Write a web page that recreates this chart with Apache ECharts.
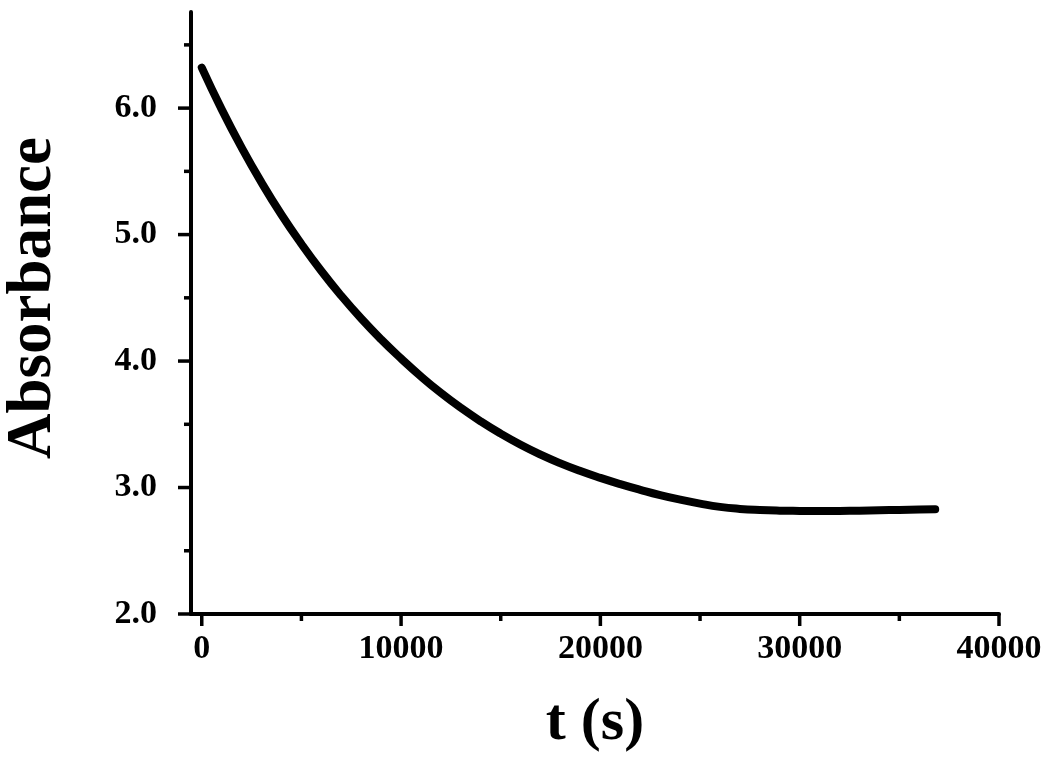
<!DOCTYPE html>
<html>
<head>
<meta charset="utf-8">
<script src="https://cdn.jsdelivr.net/npm/echarts@6/dist/echarts.min.js"></script>
<style>
html,body{margin:0;padding:0;background:#fff;}
#chart{width:1050px;height:762px;}
</style>
</head>
<body>
<div id="chart"></div>
<script>
const timeValues = [0, 1000, 2000, 3000, 4000, 5000, 6000, 7000, 8000, 9000, 10000, 11000, 12000, 13000, 14000, 15000, 16000, 17000, 18000, 19000, 20000, 21000, 22000, 23000, 24000, 25000, 26000, 27000, 28000, 29000, 30000, 31000, 32000, 33000, 34000, 35000, 36000, 36800];
const absorbanceValues = [6.32, 5.99, 5.688, 5.411, 5.157, 4.926, 4.712, 4.516, 4.336, 4.171, 4.02, 3.878, 3.748, 3.63, 3.523, 3.426, 3.338, 3.26, 3.191, 3.13, 3.076, 3.027, 2.982, 2.94, 2.904, 2.873, 2.847, 2.831, 2.822, 2.817, 2.815, 2.814, 2.815, 2.817, 2.82, 2.823, 2.826, 2.828];
const xMajorTicks = [0, 10000, 20000, 30000, 40000];
const xMinorTicks = [5000, 15000, 25000, 35000];
const yMajorTicks = [2, 3, 4, 5, 6];
const yMinorTicks = [2.5, 3.5, 4.5, 5.5, 6.5];
const xAxisTitle = 't (s)';
const yAxisTitle = 'Absorbance';

const FONT = '"Liberation Serif", "Times New Roman", serif';
const chart = echarts.init(document.getElementById('chart'), null, {renderer: 'canvas'});
const seriesData = timeValues.map((t, i) => [t, absorbanceValues[i]]);

const xMin = -540, xMax = 40000, yMin = 2, yMax = 6.76;
const MAJOR_LEN = 13, MINOR_LEN = 7;

const xTickData = xMajorTicks.map(v => [v, yMin, MAJOR_LEN - 1]).concat(xMinorTicks.map(v => [v, yMin, MINOR_LEN]));
const yTickData = yMajorTicks.map(v => [xMin, v, MAJOR_LEN]).concat(yMinorTicks.map(v => [xMin, v, MINOR_LEN]));

chart.setOption({
  backgroundColor: '#ffffff',
  animation: false,
  grid: {left: 191, right: 51, top: 12, bottom: 148, containLabel: false, outerBoundsMode: 'none'},
  xAxis: {
    type: 'value', min: xMin, max: xMax, position: 'bottom',
    name: xAxisTitle, nameLocation: 'middle', nameGap: 79,
    nameTextStyle: {fontFamily: FONT, fontWeight: 'bold', fontSize: 60, color: '#000'},
    axisLine: {show: true, onZero: false, lineStyle: {color: '#000', width: 4}},
    axisTick: {show: false},
    axisLabel: {show: true, customValues: xMajorTicks, margin: 18, fontFamily: FONT, fontWeight: 'bold', fontSize: 34, color: '#000', formatter: v => String(v)},
    splitLine: {show: false}
  },
  yAxis: {
    type: 'value', min: yMin, max: yMax, position: 'left',
    name: yAxisTitle, nameLocation: 'middle', nameGap: 126, nameRotate: 90,
    nameTextStyle: {fontFamily: FONT, fontWeight: 'bold', fontSize: 63, color: '#000', padding: [0, 0, 0, 30]},
    axisLine: {show: true, onZero: false, lineStyle: {color: '#000', width: 4}},
    axisTick: {show: false},
    axisLabel: {show: true, customValues: yMajorTicks, margin: 34, fontFamily: FONT, fontWeight: 'bold', fontSize: 34, color: '#000', formatter: v => v.toFixed(1)},
    splitLine: {show: false}
  },
  series: [
    {
      type: 'custom', silent: true, clip: false, z: 5,
      encode: {x: 0, y: 1},
      data: xTickData,
      renderItem: (params, api) => {
        const p = api.coord([api.value(0), api.value(1)]);
        const len = api.value(2);
        return {type: 'line', shape: {x1: p[0], y1: p[1], x2: p[0], y2: p[1] + len},
                style: {stroke: '#000', lineWidth: 3.5}};
      }
    },
    {
      type: 'custom', silent: true, clip: false, z: 5,
      encode: {x: 0, y: 1},
      data: yTickData,
      renderItem: (params, api) => {
        const p = api.coord([api.value(0), api.value(1)]);
        const len = api.value(2);
        return {type: 'line', shape: {x1: p[0] - len, y1: p[1], x2: p[0], y2: p[1]},
                style: {stroke: '#000', lineWidth: 3.5}};
      }
    },
    {
      type: 'line', name: 'Absorbance',
      data: seriesData,
      smooth: 0.5,
      showSymbol: false,
      z: 10,
      lineStyle: {color: '#000', width: 8, cap: 'round', join: 'round'}
    }
  ]
});
</script>
</body>
</html>
